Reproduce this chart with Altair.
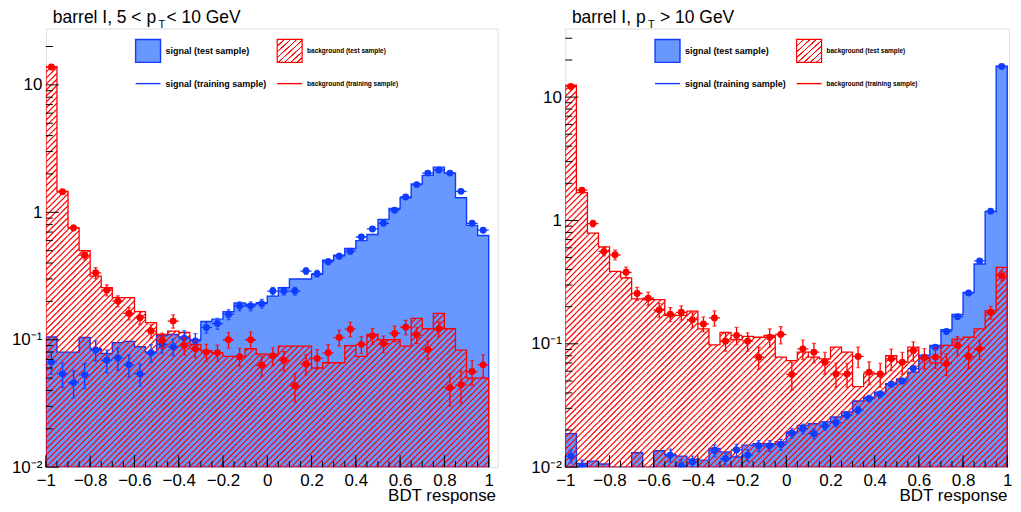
import math
import altair as alt
import pandas as pd

N_BINS = 40
bin_lo = [round(-1 + 0.05 * i, 2) for i in range(N_BINS + 1)]
bin_mid = [round(-0.975 + 0.05 * i, 3) for i in range(N_BINS)]

# ---------------- left panel: barrel I, 5 < pT < 10 GeV ----------------
L_sig_test = [0.105, 0.080, 0.080, 0.104, 0.085, 0.078, 0.095, 0.097, 0.088, 0.080,
              0.108, 0.110, 0.105, 0.100, 0.139, 0.145, 0.166, 0.194, 0.190, 0.195,
              0.220, 0.256, 0.300, 0.300, 0.326, 0.420, 0.460, 0.520, 0.600, 0.670,
              0.880, 1.07, 1.30, 1.67, 1.95, 2.26, 2.03, 1.30, 0.79, 0.657]
L_bkg_test = [13.9, 1.46, 0.755, 0.50, 0.316, 0.256, 0.214, 0.214, 0.166, 0.136,
              0.110, 0.117, 0.114, 0.092, 0.082, 0.079, 0.074, 0.074, 0.085, 0.077,
              0.077, 0.089, 0.089, 0.089, 0.060, 0.066, 0.066, 0.090, 0.074, 0.110,
              0.100, 0.100, 0.089, 0.147, 0.122, 0.161, 0.122, 0.083, 0.050, 0.050]
L_sig_train = [0.067, 0.054, 0.046, 0.053, 0.083, 0.069, 0.072, 0.0635, 0.054, 0.079,
               0.092, 0.088, 0.103, 0.098, 0.125, 0.134, 0.158, 0.184, 0.184, 0.192,
               0.241, 0.241, 0.241, 0.346, 0.330, 0.409, 0.453, 0.495, 0.640, 0.740,
               0.820, 1.04, 1.32, 1.65, 2.03, 2.15, 2.03, 1.46, 0.82, 0.724]
L_bkg_train = [13.8, 1.45, 0.755, 0.461, 0.335, 0.245, 0.201, 0.161, 0.149, 0.117,
               0.099, 0.140, 0.090, 0.085, 0.080, 0.079, 0.100, 0.0737, 0.100, 0.063,
               0.0746, 0.069, 0.0435, 0.0645, 0.0714, 0.079, 0.104, 0.121, 0.092, 0.1075,
               0.093, 0.112, 0.1255, 0.109, 0.084, 0.122, 0.042, 0.0443, 0.0563, 0.0635]
L_sig_err = [0.20, 0.22, 0.24, 0.22, 0.18, 0.20, 0.20, 0.20, 0.20, 0.16,
             0.15, 0.15, 0.14, 0.14, 0.10, 0.10, 0.09, 0.08, 0.08, 0.08,
             0.07, 0.07, 0.07, 0.06, 0.06, 0.05, 0.05, 0.05, 0.04, 0.04,
             0.04, 0.03, 0.03, 0.03, 0.03, 0.03, 0.03, 0.03, 0.04, 0.04]
L_bkg_err = [0.02, 0.04, 0.05, 0.08, 0.10, 0.10, 0.10, 0.11, 0.12, 0.12,
             0.14, 0.12, 0.15, 0.15, 0.15, 0.15, 0.14, 0.16, 0.15, 0.18,
             0.16, 0.17, 0.25, 0.18, 0.17, 0.16, 0.14, 0.13, 0.15, 0.14,
             0.15, 0.14, 0.13, 0.14, 0.16, 0.13, 0.28, 0.28, 0.22, 0.20]

# ---------------- right panel: barrel I, pT > 10 GeV ----------------
R_sig_test = [0.0187, 0.0107, 0.0112, 0.0106, 0.008, 0.008, 0.0131, 0.008, 0.0136, 0.0127,
              0.0123, 0.0116, 0.0114, 0.0142, 0.0133, 0.0121, 0.0151, 0.0155, 0.0155, 0.0160,
              0.0193, 0.0218, 0.0225, 0.0233, 0.0255, 0.0280, 0.0344, 0.0370, 0.0406, 0.0475,
              0.052, 0.059, 0.081, 0.097, 0.130, 0.173, 0.261, 0.444, 1.18, 17.8]
R_bkg_test = [12.5, 1.68, 0.79, 0.61, 0.387, 0.342, 0.231, 0.228, 0.228, 0.170,
              0.170, 0.184, 0.132, 0.098, 0.124, 0.108, 0.115, 0.113, 0.117, 0.078,
              0.073, 0.0855, 0.078, 0.0756, 0.094, 0.0855, 0.045, 0.057, 0.057, 0.080,
              0.071, 0.094, 0.076, 0.070, 0.097, 0.109, 0.113, 0.132, 0.186, 0.416]
R_sig_train = [0.0123, 0.0102, 0.007, 0.007, 0.007, 0.007, 0.007, 0.007, 0.007, 0.0125,
               0.0103, 0.0110, 0.008, 0.0137, 0.0117, 0.0138, 0.0125, 0.0149, 0.0149, 0.0153,
               0.0189, 0.0205, 0.0187, 0.0216, 0.0230, 0.0263, 0.0290, 0.0360, 0.0390, 0.0470,
               0.050, 0.063, 0.078, 0.094, 0.126, 0.166, 0.258, 0.47, 1.19, 17.7]
R_bkg_train = [12.2, 1.76, 0.944, 0.561, 0.527, 0.38, 0.256, 0.234, 0.188, 0.174,
               0.180, 0.157, 0.145, 0.162, 0.105, 0.117, 0.105, 0.078, 0.113, 0.119,
               0.0565, 0.091, 0.0855, 0.071, 0.057, 0.057, 0.079, 0.059, 0.057, 0.0756,
               0.071, 0.088, 0.077, 0.078, 0.069, 0.097, 0.079, 0.091, 0.180, 0.356]
R_sig_err = [0.12, 0.12, 0.15, 0.15, 0.15, 0.15, 0.15, 0.15, 0.15, 0.12,
             0.12, 0.12, 0.12, 0.11, 0.11, 0.11, 0.11, 0.10, 0.10, 0.10,
             0.09, 0.09, 0.09, 0.08, 0.08, 0.07, 0.07, 0.06, 0.06, 0.05,
             0.05, 0.04, 0.04, 0.04, 0.03, 0.03, 0.02, 0.02, 0.02, 0.01]
R_bkg_err = [0.02, 0.05, 0.06, 0.08, 0.09, 0.10, 0.12, 0.12, 0.13, 0.13,
             0.13, 0.14, 0.14, 0.14, 0.17, 0.16, 0.17, 0.20, 0.17, 0.16,
             0.25, 0.18, 0.18, 0.20, 0.22, 0.22, 0.19, 0.21, 0.22, 0.20,
             0.20, 0.18, 0.19, 0.19, 0.20, 0.18, 0.20, 0.18, 0.12, 0.09]

x_major = [-1, -0.8, -0.6, -0.4, -0.2, 0, 0.2, 0.4, 0.6, 0.8, 1]
x_minor = [round(-1 + 0.05 * i, 2) for i in range(41)]
y_major = [0.01, 0.1, 1, 10]
y_minor = [0.02, 0.03, 0.04, 0.05, 0.06, 0.07, 0.08, 0.09,
           0.2, 0.3, 0.4, 0.5, 0.6, 0.7, 0.8, 0.9,
           2, 3, 4, 5, 6, 7, 8, 9, 20, 30]

SIG_FILL = "#6797ff"
SIG_LINE = "#0f3cff"
BKG = "#ff0000"
FONT = "Liberation Sans"
H = 440
HATCH_STEP = 6.0   # px between hatch lines, measured horizontally


def hatch_segments(vals, ytop, w, xmax):
    """Clip a family of '/' hatch lines to each histogram bin (in data units)."""
    sx = w / (xmax + 1)
    sy = H / math.log10(ytop / 0.01)
    rows = []
    for i, v in enumerate(vals):
        p0, p1 = (bin_lo[i] + 1) * sx, (bin_lo[i + 1] + 1) * sx
        h = (math.log10(v) + 2) * sy
        if h <= 0:
            continue
        for k in range(math.ceil((p0 - h) / HATCH_STEP), math.floor(p1 / HATCH_STEP) + 1):
            c = k * HATCH_STEP
            a, b = max(p0, c), min(p1, c + h)
            if b - a < 0.2:
                continue
            rows.append({"x": a / sx - 1, "y": 10 ** ((a - c) / sy - 2),
                         "x2": b / sx - 1, "y2": 10 ** ((b - c) / sy - 2)})
    return pd.DataFrame(rows)


def hatch_gradient(n):
    clear = "rgba(255,0,0,0)"
    stops = []
    for k in range(n):
        stops += [alt.GradientStop(offset=(k + 0.00) / n, color=clear),
                  alt.GradientStop(offset=(k + 0.08) / n, color=BKG),
                  alt.GradientStop(offset=(k + 0.24) / n, color=BKG),
                  alt.GradientStop(offset=(k + 0.32) / n, color=clear)]
    stops.append(alt.GradientStop(offset=1, color=clear))
    return alt.LinearGradient(gradient="linear", stops=stops, x1=0, y1=0, x2=1, y2=1)


one = pd.DataFrame({"k": [0]})


def txt(s, x, y, size, align="left", weight="normal", baseline="alphabetic"):
    return alt.Chart(one).mark_text(text=s, align=align, baseline=baseline, font=FONT,
                                    fontSize=size, fontWeight=weight, color="black").encode(
        x=alt.value(x), y=alt.value(y))


def panel(sig_h, bkg_h, sig_p, sig_e, bkg_p, bkg_e, ytop, w, xmax,
          t_main, t_x, sub_x, t_rest, rest_x):
    xs = alt.Scale(domain=[-1, xmax], nice=False, zero=False)
    ys = alt.Scale(type="log", domain=[0.01, ytop], nice=False)
    xax = alt.Axis(values=x_major, format="~g", ticks=False, tickSize=0, domain=False, grid=False,
                   labelFont=FONT, labelFontSize=17, labelColor="black", labelPadding=5,
                   labelFlush=False, labelOverlap=False, title=None)
    yax = alt.Axis(values=y_major, ticks=False, tickSize=0, domain=False, grid=False,
                   labelExpr="datum.value < 0.05 ? '10⁻²' : datum.value < 0.5 ? '10⁻¹' : datum.value < 5 ? '1' : '10'",
                   labelFont=FONT, labelFontSize=17, labelColor="black", labelPadding=4,
                   labelOverlap=False, labelFlush=False, title=None)

    def X(f):
        return alt.X(f, type="quantitative", scale=xs, axis=xax)

    def Y(f):
        return alt.Y(f, type="quantitative", scale=ys, axis=yax)

    hs = pd.DataFrame({"x": bin_lo, "y": sig_h + [sig_h[-1]]})
    hb = pd.DataFrame({"x": bin_lo, "y": bkg_h + [bkg_h[-1]]})

    def pts(vals, errs):
        return pd.DataFrame({"x": bin_mid, "y": vals,
                             "lo": [v * (1 - e) for v, e in zip(vals, errs)],
                             "hi": [v * (1 + e) for v, e in zip(vals, errs)],
                             "xl": [m - 0.025 for m in bin_mid],
                             "xh": [m + 0.025 for m in bin_mid]})

    layers = [
        alt.Chart(hs).mark_area(interpolate="step-after", fill=SIG_FILL, stroke=SIG_LINE,
                                strokeWidth=1.4, clip=True).encode(x=X("x"), y=Y("y"), y2=alt.datum(0.01)),
        alt.Chart(hatch_segments(bkg_h, ytop, w, xmax)).mark_rule(color=BKG, strokeWidth=1.2, clip=True).encode(
            x=X("x"), y=Y("y"), x2="x2", y2="y2"),
        alt.Chart(hb).mark_area(interpolate="step-after", fillOpacity=0, stroke=BKG,
                                strokeWidth=1.3, clip=True).encode(x=X("x"), y=Y("y"), y2=alt.datum(0.01)),
    ]
    for vals, errs, col in [(sig_p, sig_e, SIG_LINE), (bkg_p, bkg_e, BKG)]:
        d = pts(vals, errs)
        layers += [
            alt.Chart(d).mark_rule(color=col, strokeWidth=1.3, clip=True).encode(x=X("x"), y=Y("lo"), y2="hi"),
            alt.Chart(d).mark_rule(color=col, strokeWidth=1.3, clip=True).encode(x=X("xl"), x2="xh", y=Y("y")),
            alt.Chart(d).mark_tick(color=col, orient="horizontal", size=4, thickness=1.2, clip=True).encode(x=X("x"), y=Y("lo")),
            alt.Chart(d).mark_tick(color=col, orient="horizontal", size=4, thickness=1.2, clip=True).encode(x=X("x"), y=Y("hi")),
            alt.Chart(d).mark_circle(color=col, size=48, opacity=1, clip=True).encode(x=X("x"), y=Y("y")),
        ]
    # axis ticks drawn inside the frame, ROOT style
    layers += [
        alt.Chart(pd.DataFrame({"v": x_minor})).mark_rule(color="black", strokeWidth=1).encode(
            x=X("v"), y=alt.value(H), y2=alt.value(H - 6)),
        alt.Chart(pd.DataFrame({"v": x_major})).mark_rule(color="black", strokeWidth=1).encode(
            x=X("v"), y=alt.value(H), y2=alt.value(H - 12)),
        alt.Chart(pd.DataFrame({"v": [v for v in y_minor if v <= ytop]})).mark_rule(color="black", strokeWidth=1).encode(
            y=Y("v"), x=alt.value(0), x2=alt.value(7)),
        alt.Chart(pd.DataFrame({"v": y_major})).mark_rule(color="black", strokeWidth=1).encode(
            y=Y("v"), x=alt.value(0), x2=alt.value(13)),
    ]
    # legend
    layers += [
        alt.Chart(one).mark_rect(fill=SIG_FILL, stroke=SIG_LINE, strokeWidth=1.4).encode(
            x=alt.value(90), x2=alt.value(115), y=alt.value(11), y2=alt.value(34)),
        alt.Chart(one).mark_rect(fill=hatch_gradient(8), stroke=BKG, strokeWidth=1.2).encode(
            x=alt.value(232), x2=alt.value(257), y=alt.value(11), y2=alt.value(34)),
        alt.Chart(one).mark_rule(color=SIG_LINE, strokeWidth=1.4).encode(
            x=alt.value(90), x2=alt.value(115), y=alt.value(55.3)),
        alt.Chart(one).mark_rule(color=BKG, strokeWidth=1.4).encode(
            x=alt.value(232), x2=alt.value(257), y=alt.value(55.3)),
        txt("signal (test sample)", 120, 22.8, 9, weight="bold", baseline="middle"),
        txt("background (test sample)", 262, 22.8, 6.5, weight="bold", baseline="middle"),
        txt("signal (training sample)", 120, 55.6, 9, weight="bold", baseline="middle"),
        txt("background (training sample)", 262, 55.6, 6.5, weight="bold", baseline="middle"),
        # titles
        txt(t_main, t_x, -5.2, 17.5),
        txt("T", sub_x, -0.6, 11),
        txt(t_rest, rest_x, -5.2, 17.5),
        txt("BDT response", w - 1.5, 474, 17, align="right"),
    ]
    return alt.layer(*layers).properties(width=w, height=H)


left = panel(L_sig_test, L_bkg_test, L_sig_train, L_sig_err, L_bkg_train, L_bkg_err, 27.7, 453, 1.04,
             "barrel I, 5 < p", 7, 113, "< 10 GeV", 121)
right = panel(R_sig_test, R_bkg_test, R_sig_train, R_sig_err, R_bkg_train, R_bkg_err, 36.0, 445, 1.008,
              "barrel I, p", 6.6, 83, "> 10 GeV", 95)

chart = alt.hconcat(left, right, spacing=68, bounds="flush").properties(
    padding={"left": 2, "top": -0.2, "right": 0, "bottom": 0}
).configure_view(stroke="black", strokeWidth=1.2).configure(background="white")

chart.save("out.html", embed_options={"renderer": "svg", "actions": False})
